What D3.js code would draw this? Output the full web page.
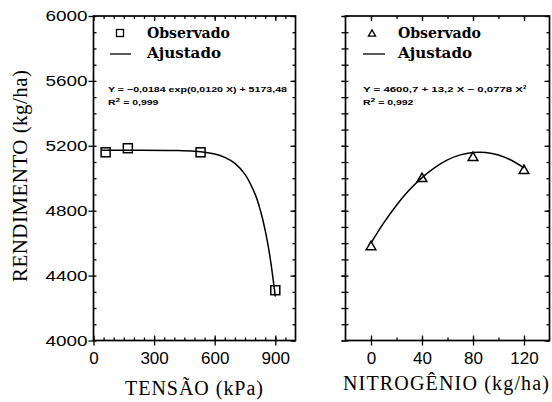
<!DOCTYPE html>
<html>
<head>
<meta charset="utf-8">
<style>
  body { margin: 0; background: #fff; }
  svg { display: block; }
</style>
</head>
<body>
<script src="https://cdn.jsdelivr.net/npm/d3@7"></script>
<script>
// observed values
var tensao = [60, 170, 530, 900];
var rendTensao = [5160, 5185, 5160, 4310];
var nitrogenio = [0, 40, 80, 120];
var rendNitro = [4580, 5000, 5130, 5050];

// fitted curves
var ajTensaoX = [40, 200, 400, 500, 600, 650, 700, 750, 800, 825, 850, 875, 900];
var ajTensaoY = [5173, 5173, 5171, 5166, 5149, 5129, 5092, 5024, 4902, 4807, 4679, 4505, 4271];
var ajNitroX = [0, 10, 20, 30, 40, 50, 60, 70, 80, 90, 100, 110, 120];
var ajNitroY = [4601, 4725, 4834, 4927, 5004, 5066, 5113, 5144, 5159, 5159, 5143, 5111, 5064];

// ticks
var yMajor = [4000, 4400, 4800, 5200, 5600, 6000];
var yMinor = d3.range(4000, 6001, 100);
var tensaoMajor = [0, 300, 600, 900];
var tensaoMinor = d3.range(0, 1001, 50);
var nitroMajor = [0, 40, 80, 120];
var nitroMinor = d3.range(-20, 141, 20);

var svg = d3.select("body").append("svg").attr("width", 552).attr("height", 402);

var y = d3.scaleLinear().domain([4000, 6000]).range([340.5, 16]);
var xL = d3.scaleLinear().domain([0, 1000]).range([93.5, 295.5]);
var xR = d3.scaleLinear().domain([-20, 140]).range([345.5, 549.5]);

function ticks(g, axis) {
  g.call(axis);
  g.select(".domain").remove();
  g.selectAll("line").attr("stroke", "#000").attr("stroke-width", 1.3);
}

function panel(x, xMajor, xMinor, yLabels) {
  var x0 = x.range()[0], x1 = x.range()[1];
  var y0 = y.range()[0], y1 = y.range()[1];
  var inner = xMinor.filter(function(v){ return v > x.domain()[0] && v < x.domain()[1]; });

  // inner ticks on all four sides
  ticks(svg.append("g").attr("transform", "translate(0," + y0 + ")"),
    d3.axisBottom(x).tickValues(inner).tickSize(-3).tickFormat(""));
  ticks(svg.append("g").attr("transform", "translate(0," + y0 + ")"),
    d3.axisBottom(x).tickValues(xMajor).tickSize(-5).tickFormat(""));
  ticks(svg.append("g").attr("transform", "translate(0," + y1 + ")"),
    d3.axisTop(x).tickValues(inner).tickSize(-3).tickFormat(""));
  ticks(svg.append("g").attr("transform", "translate(0," + y1 + ")"),
    d3.axisTop(x).tickValues(xMajor).tickSize(-5).tickFormat(""));
  ticks(svg.append("g").attr("transform", "translate(" + x0 + ",0)"),
    d3.axisLeft(y).tickValues(yMinor).tickSize(-3).tickFormat(""));
  ticks(svg.append("g").attr("transform", "translate(" + x1 + ",0)"),
    d3.axisRight(y).tickValues(yMinor).tickSize(-3).tickFormat(""));
  ticks(svg.append("g").attr("transform", "translate(" + x1 + ",0)"),
    d3.axisRight(y).tickValues(yMajor).tickSize(-5).tickFormat(""));

  // outer ticks with labels
  var gx = svg.append("g").attr("transform", "translate(0," + y0 + ")");
  ticks(gx, d3.axisBottom(x).tickValues(xMajor).tickSize(5).tickPadding(6));
  gx.selectAll("text").attr("font-family", "Liberation Sans, Arial, sans-serif")
    .attr("font-size", 17).attr("fill", "#000");

  var gy = svg.append("g").attr("transform", "translate(" + x0 + ",0)");
  ticks(gy, d3.axisLeft(y).tickValues(yMajor).tickSize(yLabels ? 5 : 4).tickPadding(1)
    .tickFormat(yLabels ? d3.format("d") : ""));
  if (yLabels) {
    gy.selectAll("text").attr("font-family", "Liberation Sans, Arial, sans-serif")
      .attr("font-size", 15).attr("fill", "#000")
      .attr("textLength", 42).attr("lengthAdjust", "spacingAndGlyphs");
  } else {
    ticks(svg.append("g").attr("transform", "translate(" + x0 + ",0)"),
      d3.axisLeft(y).tickValues(yMinor).tickSize(4).tickFormat(""));
  }

  svg.append("rect")
    .attr("x", x0).attr("y", y1)
    .attr("width", x1 - x0).attr("height", y0 - y1)
    .attr("fill", "none").attr("stroke", "#000").attr("stroke-width", 1.7);
}

panel(xL, tensaoMajor, tensaoMinor, true);
panel(xR, nitroMajor, nitroMinor, false);

// fitted lines
var lineL = d3.line().x(function(d){ return xL(d[0]); }).y(function(d){ return y(d[1]); }).curve(d3.curveCatmullRom);
var lineR = d3.line().x(function(d){ return xR(d[0]); }).y(function(d){ return y(d[1]); }).curve(d3.curveCatmullRom);

svg.append("path").datum(d3.zip(ajTensaoX, ajTensaoY)).attr("d", lineL)
  .attr("fill", "none").attr("stroke", "#000").attr("stroke-width", 1.5);
svg.append("path").datum(d3.zip(ajNitroX, ajNitroY)).attr("d", lineR)
  .attr("fill", "none").attr("stroke", "#000").attr("stroke-width", 1.5);

// markers
var sq = 9;
svg.selectAll(".sq").data(d3.zip(tensao, rendTensao)).enter().append("rect")
  .attr("x", function(d){ return xL(d[0]) - sq / 2; })
  .attr("y", function(d){ return y(d[1]) - sq / 2; })
  .attr("width", sq).attr("height", sq)
  .attr("fill", "none").attr("stroke", "#000").attr("stroke-width", 1.5);

var tri = d3.symbol().type(d3.symbolTriangle).size(40);
svg.selectAll(".tri").data(d3.zip(nitrogenio, rendNitro)).enter().append("path")
  .attr("d", tri)
  .attr("transform", function(d){ return "translate(" + xR(d[0]) + "," + (y(d[1]) + 0.5) + ")"; })
  .attr("fill", "none").attr("stroke", "#000").attr("stroke-width", 1.5);

// legends
var legFont = "DejaVu Serif, serif";
svg.append("rect").attr("x", 116.5).attr("y", 29.5).attr("width", 7).attr("height", 7)
  .attr("fill", "none").attr("stroke", "#000").attr("stroke-width", 1.3);
svg.append("line").attr("x1", 110).attr("x2", 131).attr("y1", 54).attr("y2", 54)
  .attr("stroke", "#000").attr("stroke-width", 1.3);
svg.append("path").attr("d", d3.symbol().type(d3.symbolTriangle).size(22))
  .attr("transform", "translate(372,34)")
  .attr("fill", "none").attr("stroke", "#000").attr("stroke-width", 1.3);
svg.append("line").attr("x1", 363).attr("x2", 385).attr("y1", 54).attr("y2", 54)
  .attr("stroke", "#000").attr("stroke-width", 1.3);

[[147, 38, "Observado"], [147, 58, "Ajustado"], [398, 38, "Observado"], [398, 58, "Ajustado"]]
  .forEach(function(t){
    svg.append("text").attr("x", t[0]).attr("y", t[1]).text(t[2])
      .attr("font-family", legFont).attr("font-weight", "bold").attr("font-size", 14)
      .attr("textLength", t[2] == "Observado" ? 83 : 74).attr("lengthAdjust", "spacingAndGlyphs");
  });

// equations (stretched sideways like the scan)
var eqFont = "Liberation Sans, Arial, sans-serif";
function eqText(xp, yp, sx) {
  return svg.append("g").attr("transform", "translate(" + xp + "," + yp + ") scale(" + sx + ",1)")
    .append("text").attr("font-family", eqFont).attr("font-weight", "bold").attr("font-size", 7.5);
}
function r2(xp, yp, val) {
  var t = eqText(xp, yp, 1.4);
  t.append("tspan").text("R");
  t.append("tspan").attr("dy", -3).attr("font-size", 6).text("2");
  t.append("tspan").attr("dy", 3).text(" = " + val);
}
eqText(108, 92, 1).text("Y = \u22120,0184 exp(0,0120 X) + 5173,48")
  .attr("textLength", 179).attr("lengthAdjust", "spacingAndGlyphs");
r2(108, 105, "0,999");
var t2 = eqText(363, 92, 1);
t2.append("tspan").text("Y = 4600,7 + 13,2 X \u2212 0,0778 X").attr("textLength", 160).attr("lengthAdjust", "spacingAndGlyphs");
t2.append("tspan").attr("dy", -3).attr("font-size", 6).text("2");
r2(363, 105, "0,992");

// axis titles
var titleFont = "Liberation Serif, Times New Roman, serif";
svg.append("text").attr("x", 194).attr("y", 395).attr("text-anchor", "middle")
  .attr("font-family", titleFont).attr("font-size", 20)
  .attr("textLength", 138).attr("lengthAdjust", "spacing")
  .text("TENSÃO (kPa)");
svg.append("text").attr("x", 446).attr("y", 390).attr("text-anchor", "middle")
  .attr("font-family", titleFont).attr("font-size", 20)
  .attr("textLength", 206).attr("lengthAdjust", "spacing")
  .text("NITROGÊNIO (kg/ha)");
svg.append("text").attr("transform", "translate(26.5,176) rotate(-90)").attr("text-anchor", "middle")
  .attr("font-family", titleFont).attr("font-size", 21)
  .attr("textLength", 212).attr("lengthAdjust", "spacing")
  .text("RENDIMENTO (kg/ha)");
</script>
</body>
</html>
